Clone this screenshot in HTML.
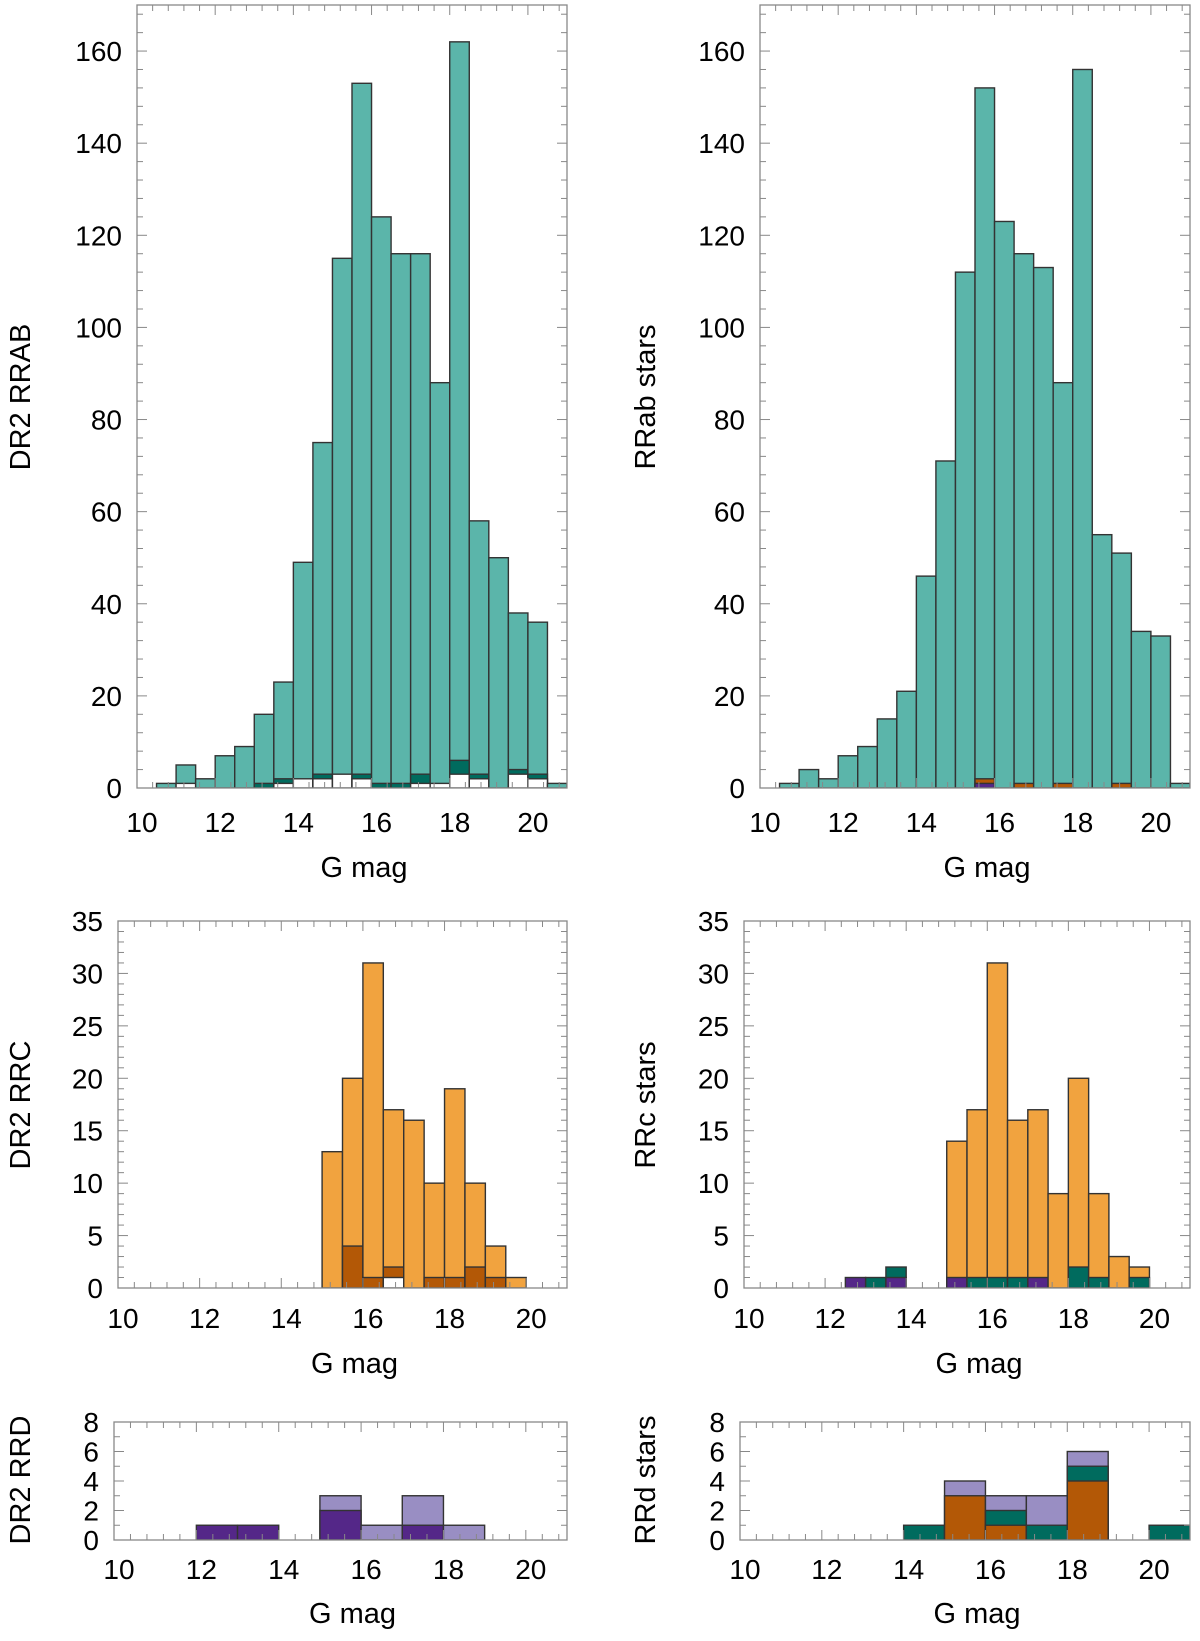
<!DOCTYPE html>
<html><head><meta charset="utf-8">
<style>
html,body{margin:0;padding:0;background:#fff;}
svg{display:block;font-family:"Liberation Sans",Arial,sans-serif;}
</style></head>
<body>
<svg id="fig" width="1200" height="1641" viewBox="0 0 1200 1641" xmlns="http://www.w3.org/2000/svg"></svg>
<script>
// Bin starts (G mag)
const halfBins = [10.5,11,11.5,12,12.5,13,13.5,14,14.5,15,15.5,16,16.5,17,17.5,18,18.5,19,19.5,20,20.5];
const rrcBins = [12.5,13,13.5,14,14.5,15,15.5,16,16.5,17,17.5,18,18.5,19,19.5];
const rrdBins = [12,13,14,15,16,17,18,19,20];

// Top-left DR2 RRAB
const dr2RRab = [1,5,2,7,9,16,23,49,75,115,153,124,116,116,88,162,58,50,38,36,1];
const dr2RRabDark = [0,0,0,0,0,1,2,0,3,0,3,1,1,3,0,6,3,0,4,3,0];
const dr2RRabWhite = [0,1,0,0,0,0,1,2,2,3,2,0,0,1,1,3,2,0,3,2,0];
// Top-right RRab stars
const rrab = [1,4,2,7,9,15,21,46,71,112,152,123,116,113,88,156,55,51,34,33,1];
const rrabOrange = [0,0,0,0,0,0,0,0,0,0,2,0,1,0,1,0,0,1,0,0,0];
const rrabPurple = [0,0,0,0,0,0,0,0,0,0,1,0,0,0,0,0,0,0,0,0,0];
// Middle-left DR2 RRC
const dr2RRc = [0,0,0,0,0,13,20,31,17,16,10,19,10,4,1];
const dr2RRcDark = [0,0,0,0,0,0,4,1,2,0,1,1,2,1,0];
const dr2RRcWhite = [0,0,0,0,0,0,0,0,1,0,0,0,0,0,0];
// Middle-right RRc stars
const rrc = [0,0,0,0,0,14,17,31,16,17,9,20,9,3,2];
const rrcTeal = [0,1,2,0,0,0,1,1,1,0,0,2,1,0,1];
const rrcPurple = [1,0,1,0,0,1,0,0,0,1,0,0,0,0,0];
// Bottom-left DR2 RRD
const dr2RRdLav = [0,0,0,3,1,3,1,0,0];
const dr2RRdPurple = [1,1,0,2,0,1,0,0,0];
// Bottom-right RRd stars
const rrdLav = [0,0,0,4,3,3,6,0,0];
const rrdTeal = [0,0,1,0,2,1,5,0,1];
const rrdOrange = [0,0,0,3,1,0,4,0,0];

const C = {teal:'#5bb5aa', dteal:'#006b5e', orange:'#f1a33f', dorange:'#b35806', purple:'#542788', lav:'#998ec3', white:'#ffffff'};
const NS='http://www.w3.org/2000/svg';
const svg=document.getElementById('fig');
function mk(tag,attrs,parent){const e=document.createElementNS(NS,tag);for(const k in attrs)e.setAttribute(k,attrs[k]);(parent||svg).appendChild(e);return e;}

function panel(p){
  const g=mk('g',{});
  
  
  const xs=v=>p.x0+(v-10)/11*(p.x1-p.x0);
  const ys=v=>p.yb-(v/p.ymax)*(p.yb-p.yt);
  const clipId='clip-'+p.name;
  const cp=mk('clipPath',{id:clipId},g);
  mk('rect',{x:p.x0,y:p.yt,width:p.x1-p.x0,height:p.yb-p.yt},cp);
  const bars=mk('g',{'clip-path':'url(#'+clipId+')'},g);
  p.bins.forEach((b,i)=>{
    const items=p.series.map(s=>({v:s.vals[i],c:s.color,n:s.name})).filter(o=>o.v>0);
    items.sort((a,b2)=>b2.v-a.v);
    items.forEach(o=>{
      const r=mk('rect',{x:xs(b),y:ys(o.v),width:xs(b+p.bw)-xs(b),height:ys(0)-ys(o.v),fill:o.c,stroke:'#333',"stroke-width":1.4},bars);
      
      
    });
  });
  const fr=mk('rect',{x:p.x0,y:p.yt,width:p.x1-p.x0,height:p.yb-p.yt,fill:'none',stroke:'#888',"stroke-width":1.3},g);
  
  
  for(let v=10;v<=21.001;v+=0.4){
    const maj=Math.abs(Math.round(v/2)*2-v)<1e-6;
    const L=maj?10:6; const X=xs(v);
    mk('line',{x1:X,x2:X,y1:p.yb,y2:p.yb-L,stroke:'#888'},g);
    mk('line',{x1:X,x2:X,y1:p.yt,y2:p.yt+L,stroke:'#888'},g);
    if(maj && v<=20.01){
      const t=mk('text',{x:X+5,y:p.xl,'font-size':28,'text-anchor':'middle'},g);
      t.textContent=Math.round(v);
      
      
    }
  }
  for(let v=0;v<=p.ymax+1e-6;v+=p.ymin){
    const maj=Math.abs(Math.round(v/p.ystep)*p.ystep-v)<1e-6;
    const L=maj?10:6; const Y=ys(v);
    mk('line',{x1:p.x0,x2:p.x0+L,y1:Y,y2:Y,stroke:'#888'},g);
    mk('line',{x1:p.x1,x2:p.x1-L,y1:Y,y2:Y,stroke:'#888'},g);
    if(maj){
      const t=mk('text',{x:p.x0-15,y:Y+10,'font-size':28,'text-anchor':'end'},g);
      t.textContent=Math.round(v);
      
      
    }
  }
  const xt=mk('text',{x:(p.x0+p.x1)/2+12,y:p.xt,'font-size':29,'text-anchor':'middle'},g);
  xt.textContent='G mag';
  
  
  const yt=mk('text',{x:0,y:0,'font-size':29,'text-anchor':'middle',transform:'translate('+p.ytx+','+p.yty+') rotate(-90)'},g);
  yt.textContent=p.ytitle;
  
  
}

panel({name:'dr2-rrab-panel',x0:137,x1:567,yt:5,yb:788,ymax:170,ystep:20,ymin:4,bins:halfBins,bw:0.5,xl:832,xt:877,ytitle:'DR2 RRAB',ytx:30,yty:397,
  series:[{vals:dr2RRab,color:C.teal,name:'dr2-rrab'},{vals:dr2RRabDark,color:C.dteal,name:'dr2-rrab-dark'},{vals:dr2RRabWhite,color:C.white,name:'dr2-rrab-white'}]});
panel({name:'rrab-panel',x0:760,x1:1190,yt:5,yb:788,ymax:170,ystep:20,ymin:4,bins:halfBins,bw:0.5,xl:832,xt:877,ytitle:'RRab stars',ytx:655,yty:397,
  series:[{vals:rrab,color:C.teal,name:'rrab'},{vals:rrabOrange,color:C.dorange,name:'rrab-orange'},{vals:rrabPurple,color:C.purple,name:'rrab-purple'}]});
panel({name:'dr2-rrc-panel',x0:118,x1:567,yt:921,yb:1288,ymax:35,ystep:5,ymin:1,bins:rrcBins,bw:0.5,xl:1328,xt:1373,ytitle:'DR2 RRC',ytx:30,yty:1105,
  series:[{vals:dr2RRc,color:C.orange,name:'dr2-rrc'},{vals:dr2RRcDark,color:C.dorange,name:'dr2-rrc-dark'},{vals:dr2RRcWhite,color:C.white,name:'dr2-rrc-white'}]});
panel({name:'rrc-panel',x0:744,x1:1190,yt:921,yb:1288,ymax:35,ystep:5,ymin:1,bins:rrcBins,bw:0.5,xl:1328,xt:1373,ytitle:'RRc stars',ytx:655,yty:1105,
  series:[{vals:rrc,color:C.orange,name:'rrc'},{vals:rrcTeal,color:C.dteal,name:'rrc-teal'},{vals:rrcPurple,color:C.purple,name:'rrc-purple'}]});
panel({name:'dr2-rrd-panel',x0:114,x1:567,yt:1422,yb:1540,ymax:8,ystep:2,ymin:1,bins:rrdBins,bw:1,xl:1579,xt:1623,ytitle:'DR2 RRD',ytx:30,yty:1480,
  series:[{vals:dr2RRdLav,color:C.lav,name:'dr2-rrd-lav'},{vals:dr2RRdPurple,color:C.purple,name:'dr2-rrd-purple'}]});
panel({name:'rrd-panel',x0:740,x1:1190,yt:1422,yb:1540,ymax:8,ystep:2,ymin:1,bins:rrdBins,bw:1,xl:1579,xt:1623,ytitle:'RRd stars',ytx:655,yty:1480,
  series:[{vals:rrdLav,color:C.lav,name:'rrd-lav'},{vals:rrdTeal,color:C.dteal,name:'rrd-teal'},{vals:rrdOrange,color:C.dorange,name:'rrd-orange'}]});
</script>
</body></html>
